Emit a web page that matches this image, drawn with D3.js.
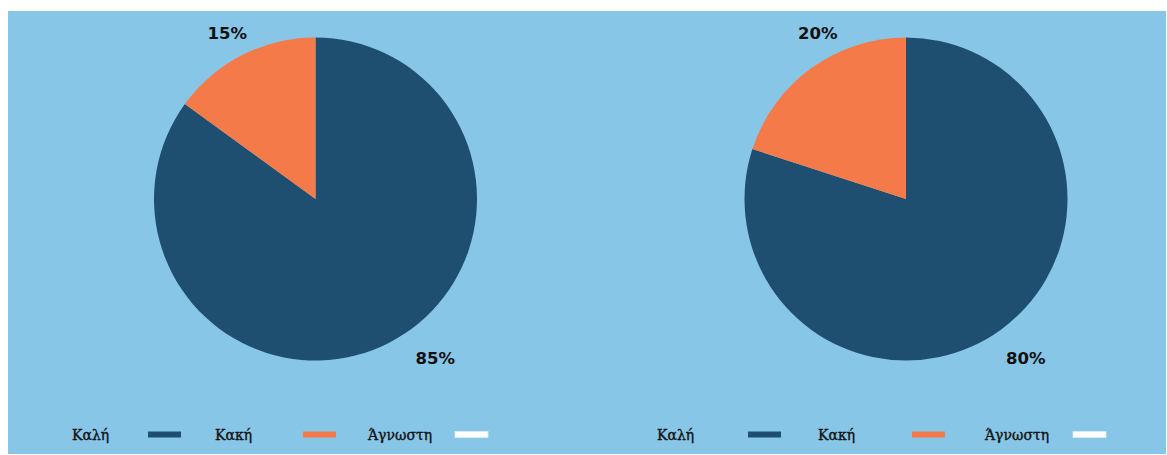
<!DOCTYPE html>
<html>
<head>
<meta charset="utf-8">
<script src="https://cdn.jsdelivr.net/npm/d3@7"></script>
<style>
  body { margin: 0; background: #ffffff; }
  svg { display: block; }
</style>
</head>
<body>
<div id="chart"></div>
<script>
// categories and values, one list per pie
var categories = ["Καλή", "Κακή", "Άγνωστη"];
var leftValues = [85, 15, 0];
var rightValues = [80, 20, 0];
var colors = ["#1f4f70", "#f47a4a", "#ffffff"];

(function () {
    var width = 1167, height = 455;

    var svg = d3.select("#chart").append("svg")
        .attr("width", width)
        .attr("height", height);

    // light blue panel
    svg.append("rect")
        .attr("x", 8)
        .attr("y", 11)
        .attr("width", 1158)
        .attr("height", 443)
        .attr("fill", "#88c6e8");

    var radius = 161.5;

    var color = d3.scaleOrdinal().domain(categories).range(colors);

    var pie = d3.pie().sort(null).value(d => d.value);
    var arc = d3.arc().innerRadius(0).outerRadius(radius);

    // label place per slice (angle in degrees from top, distance from centre)
    var labelPos = [{ a: 143, r: 199 }, { a: -28, r: 188 }];

    var panels = [
        { values: leftValues, cx: 315.5, cy: 199, text: [72, 215, 368], swatch: [148, 303, 455] },
        { values: rightValues, cx: 906, cy: 199, text: [657, 818, 985], swatch: [748, 912, 1073] }
    ];

    panels.forEach(function (p) {
        var data = categories.map((c, i) => ({ cat: c, value: p.values[i] }));
        var arcs = pie(data);

        var g = svg.append("g")
            .attr("transform", "translate(" + p.cx + "," + p.cy + ")");

        g.selectAll("path.slice")
            .data(arcs.filter(d => d.data.value > 0))
            .enter().append("path")
            .attr("class", "slice")
            .attr("d", arc)
            .attr("fill", d => color(d.data.cat));

        g.selectAll("text.pct")
            .data(arcs.filter(d => d.data.value > 0))
            .enter().append("text")
            .attr("class", "pct")
            .attr("x", (d, i) => labelPos[i].r * Math.sin(labelPos[i].a * Math.PI / 180))
            .attr("y", (d, i) => -labelPos[i].r * Math.cos(labelPos[i].a * Math.PI / 180))
            .attr("dy", "0.36em")
            .attr("text-anchor", "middle")
            .attr("font-family", "DejaVu Sans, sans-serif")
            .attr("font-weight", "bold")
            .attr("font-size", 16.5)
            .attr("fill", "#111111")
            .text(d => d.data.value + "%");

        // legend: label then colour bar to its right
        var textX = d3.scaleOrdinal().domain(categories).range(p.text);
        var swatchX = d3.scaleOrdinal().domain(categories).range(p.swatch);

        var leg = svg.append("g");

        leg.selectAll("text")
            .data(categories)
            .enter().append("text")
            .attr("x", d => textX(d))
            .attr("y", 440)
            .attr("font-family", "DejaVu Serif, serif")
            .attr("font-size", 14)
            .attr("fill", "#111111")
            .attr("stroke", "#111111")
            .attr("stroke-width", 0.35)
            .text(d => d);

        leg.selectAll("rect")
            .data(categories)
            .enter().append("rect")
            .attr("x", d => swatchX(d))
            .attr("y", 431.5)
            .attr("width", 33)
            .attr("height", 6)
            .attr("fill", d => color(d))
            .attr("stroke", d => d === "Άγνωστη" ? "#d8ecf7" : "none")
            .attr("stroke-width", 0.8);
    });
})();
</script>
</body>
</html>
